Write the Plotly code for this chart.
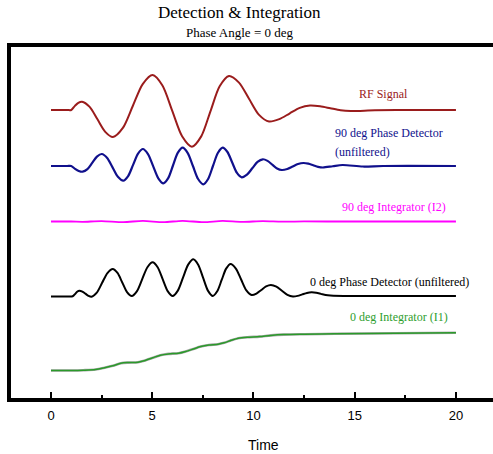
import plotly.graph_objects as go

# ---- data ----
# readings are in "levels" measured upward from the bottom frame; converted to 0..10 units below
def lv(readings):
    return [round((398 - r) / 35.1, 3) for r in readings]

rf_t = [0, 0.8, 1.0, 1.18, 1.35, 1.53, 1.91, 2.295, 2.68, 3.06, 3.55, 4.04, 4.53, 5.02, 5.505, 5.99, 6.475, 6.96,
        7.42, 7.875, 8.33, 8.79, 9.285, 9.78, 10.275, 10.77, 11.275, 11.78, 12.285, 12.79, 13.29, 13.795, 14.3, 14.8,
        16, 18, 20]
rf_read = [110, 110, 110, 105.85, 102.8, 101.7, 106.85, 119.35, 131.85, 137, 127.95, 106, 84.05, 75, 85.47, 110.85, 136.23, 146.7,
           136.38, 111.35, 86.32, 76, 82.64, 98.75, 114.86, 121.5, 119.16, 113.5, 107.84, 105.5, 106.3, 108.25, 110.2, 111,
           110.3, 110, 110]

pd90_t = [0, 0.8, 1.0, 1.19, 1.37, 1.56, 1.80, 2.035, 2.27, 2.51, 2.775, 3.04, 3.305, 3.57, 3.81, 4.055, 4.30, 4.54,
          4.79, 5.045, 5.30, 5.55, 5.79, 6.025, 6.26, 6.5, 6.755, 7.01, 7.265, 7.52, 7.76, 8.0, 8.24, 8.48,
          8.715, 8.95, 9.185, 9.42, 9.68, 9.94, 10.2, 10.46, 10.695, 10.93, 11.165, 11.4, 11.67, 11.935, 12.2, 12.47,
          12.71, 12.95, 13.19, 13.43, 13.915, 14.4, 15.4, 16.4, 20]
pd90_read = [166, 166, 166, 168.85, 170.94, 171.7, 169.12, 162.85, 156.58, 154, 157.9, 167.35, 176.8, 180.7, 176.07, 164.85, 153.63, 149,
             154.01, 166.15, 178.29, 183.3, 178.1, 165.5, 152.9, 147.7, 153.04, 166, 178.96, 184.3, 178.96, 166, 153.04, 147.7,
             152.02, 162.5, 172.98, 177.3, 174.67, 168.3, 161.93, 159.3, 160.86, 164.65, 168.44, 170, 168.98, 166.5, 164.02, 163,
             163.66, 165.25, 166.84, 167.5, 166.25, 165, 166.5, 166, 166]

int90_t = [0, 1.0, 1.56, 2.5, 3.57, 4.54, 5.55, 6.5, 7.52, 8.48, 9.42, 10.46, 11.4, 12.5, 14, 20]
int90_read = [221.5, 221.5, 221.8, 221.1, 222.1, 220.9, 222.2, 220.8, 222.2, 220.9, 221.9, 221.1, 221.7, 221.4, 221.5, 221.5]

pd0_t = [0, 0.8, 1.02, 1.115, 1.21, 1.305, 1.4, 1.55, 1.7, 1.85, 2.0, 2.2625, 2.525, 2.7875, 3.05, 3.285, 3.52, 3.755, 3.99,
         4.2475, 4.505, 4.7625, 5.02, 5.2675, 5.515, 5.7625, 6.01, 6.265, 6.52, 6.775, 7.03, 7.27, 7.51, 7.75, 7.99,
         8.21, 8.43, 8.65, 8.87, 9.13, 9.39, 9.65, 9.91, 10.1475, 10.385, 10.6225, 10.86, 11.1325, 11.405, 11.6775, 11.95,
         12.18, 12.41, 12.64, 12.87, 13.1, 13.335, 13.57, 13.8, 14.8, 20]
pd0_read = [296.5, 296.5, 296.5, 295.65, 293.6, 291.55, 290.7, 291.58, 293.7, 295.82, 296.7, 292.66, 282.85, 273.04, 269, 272.94, 282.5, 292.06, 296,
            291.08, 279.15, 267.22, 262.3, 267.22, 279.15, 291.08, 296, 290.64, 277.65, 264.66, 259.3, 264.66, 277.65, 290.64, 296,
            291.33, 280, 268.67, 264, 268.53, 279.5, 290.47, 295, 293.54, 290, 286.46, 285, 286.68, 290.75, 294.82, 296.5,
            295.89, 294.4, 292.91, 292.3, 292.77, 293.9, 295.03, 295.5, 296, 296]

int0_t = [0, 1.0, 1.6, 2.2, 2.6, 3.05, 3.45, 3.8, 4.3, 4.65, 5.02, 5.4, 5.8, 6.3, 6.65, 7.03, 7.4, 7.8, 8.25, 8.55, 8.9,
          9.25, 9.7, 10.3, 10.86, 11.5, 12.5, 14, 17, 20]
int0_read = [370.5, 370.5, 370.2, 369.5, 368, 365.8, 363.3, 362.6, 362.2, 360.5, 357.8, 355.2, 353.9, 353.2, 351.5, 349, 346.5,
             345, 344.2, 342.8, 340.3, 338.2, 337.2, 336.6, 335.4, 334.6, 334.2, 333.8, 333.2, 332.7]

x_ticks = [0, 5, 10, 15, 20]

SERIF = "Liberation Serif, Times New Roman, serif"
SANS = "Liberation Sans, Arial, sans-serif"

RED = "#9A1C1C"
BLUE = "#10108C"
MAG = "#FF00FF"
GREEN = "#2A9A2A"

fig = go.Figure()

def add_line(x, y, color, width=2.0):
    fig.add_trace(go.Scatter(x=x, y=y, mode="lines", line=dict(color=color, width=width, shape="spline", smoothing=0.8),
                             hoverinfo="skip", showlegend=False))

add_line(rf_t, lv(rf_read), RED, 2.0)
add_line(pd90_t, lv(pd90_read), BLUE, 2.2)
add_line(int90_t, lv(int90_read), MAG, 1.8)
add_line(pd0_t, lv(pd0_read), "#000000", 2.0)
add_line(int0_t, lv(int0_read), "#a8a8a8", 2.6)
add_line(int0_t, lv(int0_read), GREEN, 1.5)

labels = [
    ("RF Signal", 16.4, 94, RED, "center"),
    ("90 deg Phase Detector", 13.93, 133, BLUE, "left"),
    ("(unfiltered)", 13.93, 152, BLUE, "left"),
    ("90 deg Integrator (I2)", 14.27, 207, MAG, "left"),
    ("0 deg Phase Detector (unfiltered)", 12.7, 281.7, "#000000", "left"),
    ("0 deg Integrator (I1)", 14.65, 317.3, "#2E9E2E", "left"),
]
for txt, x, y, c, anc in labels:
    fig.add_annotation(x=x, y=lv([y])[0], xref="x", yref="y", text=txt, showarrow=False, xanchor=anc, yanchor="middle",
                       font=dict(family=SERIF, size=12, color=c))

fig.add_annotation(x=0.475, y=1.097, xref="paper", yref="paper", text="Detection &amp; Integration", showarrow=False,
                   xanchor="center", yanchor="middle", font=dict(family=SERIF, size=17, color="#000000"))
fig.add_annotation(x=0.475, y=1.0427, xref="paper", yref="paper", text="Phase Angle = 0 deg", showarrow=False,
                   xanchor="center", yanchor="middle", font=dict(family=SERIF, size=13, color="#000000"))
fig.add_annotation(x=0.524, y=-0.134, xref="paper", yref="paper", text="Time", showarrow=False,
                   xanchor="center", yanchor="middle", font=dict(family=SANS, size=14, color="#000000"))

fig.update_layout(
    width=493, height=454,
    margin=dict(l=11, r=0, t=47, b=56, pad=0),
    paper_bgcolor="white", plot_bgcolor="white",
    showlegend=False,
    xaxis=dict(range=[-1.975, 21.83], tickvals=x_ticks, ticktext=[str(v) for v in x_ticks],
               ticks="inside", ticklen=6, tickwidth=1.5, tickcolor="black",
               minor=dict(tickvals=[2.5, 7.5, 12.5, 17.5], ticks="inside", ticklen=3, tickwidth=1.5, tickcolor="black"),
               showline=True, linecolor="black", linewidth=3.5, mirror=True,
               showgrid=False, zeroline=False, ticklabelstandoff=3,
               tickfont=dict(family=SANS, size=13, color="black")),
    yaxis=dict(range=[0, 10], showticklabels=False, ticks="", showline=True, linecolor="black", linewidth=3.5,
               showgrid=False, zeroline=False),
)

fig.write_html("out.html")
